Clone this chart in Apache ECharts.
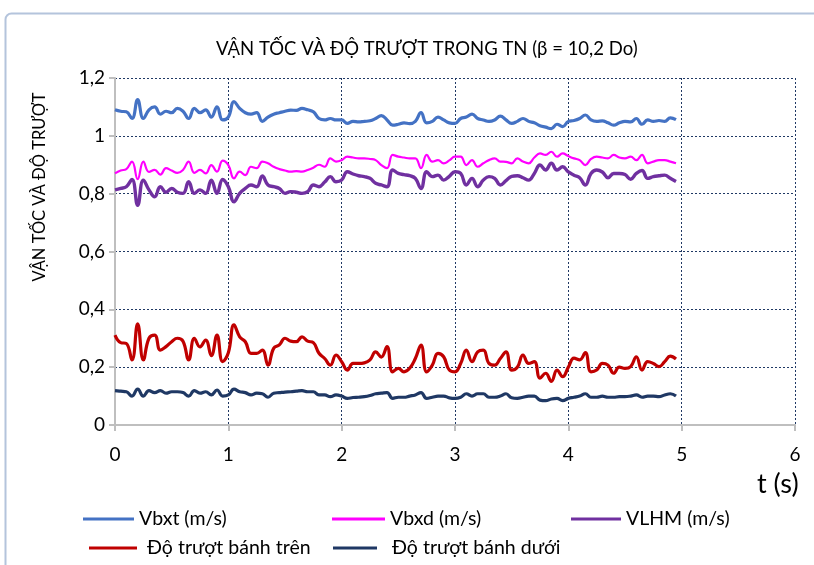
<!DOCTYPE html>
<html>
<head>
<meta charset="utf-8">
<script src="https://cdn.jsdelivr.net/npm/echarts@6/dist/echarts.min.js"></script>
<style>
html,body{margin:0;padding:0;background:#fff;}
#chart{width:814px;height:565px;}
</style>
</head>
<body>
<div id="chart"></div>
<script>
var title = 'VẬN TỐC VÀ ĐỘ TRƯỢT TRONG TN (β = 10,2 Do)';
var yAxisTitle = 'VẬN TỐC VÀ ĐỘ TRƯỢT';
var xAxisTitle = 't (s)';
var seriesNames = ['Vbxt (m/s)', 'Vbxd (m/s)', 'VLHM (m/s)', 'Độ trượt bánh trên', 'Độ trượt bánh dưới'];

var times = [0.00,0.05,0.10,0.15,0.20,0.25,0.30,0.35,0.40,0.45,0.50,0.55,0.60,0.65,0.70,0.75,0.80,0.85,0.90,0.95,
1.00,1.05,1.10,1.15,1.20,1.25,1.30,1.35,1.40,1.45,1.50,1.55,1.60,1.65,1.70,1.75,1.80,1.85,1.90,1.95,
2.00,2.05,2.10,2.15,2.20,2.25,2.30,2.35,2.40,2.45,2.50,2.55,2.60,2.65,2.70,2.75,2.80,2.85,2.90,2.95,
3.00,3.05,3.10,3.15,3.20,3.25,3.30,3.35,3.40,3.45,3.50,3.55,3.60,3.65,3.70,3.75,3.80,3.85,3.90,3.95,
4.00,4.05,4.10,4.15,4.20,4.25,4.30,4.35,4.40,4.45,4.50,4.55,4.60,4.65,4.70,4.75,4.80,4.85,4.90,4.95];

var vbxt = [1.090,1.085,1.083,1.060,1.125,1.060,1.090,1.100,1.075,1.085,1.080,1.095,1.085,1.060,1.095,1.080,1.090,1.065,1.100,1.055,
1.065,1.118,1.095,1.080,1.075,1.080,1.050,1.065,1.075,1.080,1.085,1.089,1.088,1.095,1.090,1.083,1.060,1.055,1.060,1.055,
1.055,1.043,1.050,1.048,1.050,1.052,1.060,1.070,1.055,1.037,1.040,1.045,1.042,1.050,1.080,1.045,1.050,1.065,1.055,1.045,
1.043,1.060,1.065,1.075,1.060,1.055,1.050,1.055,1.068,1.055,1.043,1.050,1.060,1.050,1.045,1.035,1.030,1.025,1.040,1.032,
1.050,1.053,1.060,1.072,1.055,1.050,1.052,1.045,1.037,1.045,1.050,1.048,1.060,1.040,1.055,1.050,1.053,1.050,1.062,1.056];

var vbxd = [0.870,0.880,0.885,0.911,0.850,0.911,0.875,0.882,0.866,0.888,0.880,0.872,0.882,0.911,0.872,0.882,0.870,0.899,0.876,0.914,
0.899,0.853,0.876,0.864,0.893,0.888,0.911,0.905,0.893,0.885,0.880,0.876,0.878,0.876,0.882,0.890,0.900,0.893,0.922,0.911,
0.916,0.928,0.925,0.922,0.922,0.920,0.916,0.899,0.888,0.934,0.928,0.925,0.922,0.922,0.888,0.934,0.911,0.916,0.905,0.915,
0.928,0.928,0.899,0.916,0.893,0.905,0.916,0.922,0.911,0.910,0.905,0.922,0.911,0.905,0.925,0.939,0.934,0.945,0.928,0.939,
0.930,0.922,0.916,0.899,0.920,0.928,0.925,0.922,0.934,0.925,0.922,0.928,0.916,0.934,0.905,0.911,0.916,0.916,0.911,0.905];

var vlhm = [0.813,0.818,0.824,0.849,0.760,0.847,0.813,0.789,0.824,0.805,0.818,0.805,0.801,0.841,0.801,0.813,0.801,0.847,0.801,0.849,
0.824,0.772,0.801,0.818,0.830,0.824,0.861,0.830,0.824,0.818,0.801,0.807,0.805,0.801,0.807,0.830,0.824,0.840,0.859,0.841,
0.847,0.876,0.868,0.862,0.859,0.853,0.836,0.830,0.824,0.882,0.870,0.866,0.862,0.853,0.818,0.876,0.859,0.864,0.847,0.860,
0.876,0.870,0.830,0.853,0.824,0.847,0.859,0.853,0.830,0.845,0.860,0.862,0.855,0.847,0.870,0.899,0.882,0.905,0.882,0.893,
0.875,0.864,0.855,0.830,0.870,0.882,0.875,0.855,0.870,0.870,0.866,0.850,0.870,0.880,0.853,0.859,0.862,0.864,0.853,0.842];

var trenSlip = [0.311,0.285,0.282,0.225,0.350,0.225,0.300,0.311,0.259,0.271,0.288,0.300,0.290,0.225,0.300,0.270,0.294,0.240,0.311,0.219,
0.250,0.346,0.305,0.288,0.248,0.248,0.259,0.207,0.265,0.277,0.300,0.290,0.288,0.305,0.290,0.285,0.248,0.230,0.207,0.242,
0.219,0.190,0.213,0.213,0.215,0.225,0.253,0.235,0.271,0.184,0.196,0.184,0.196,0.230,0.276,0.184,0.207,0.248,0.236,0.190,
0.184,0.213,0.259,0.219,0.253,0.259,0.213,0.207,0.230,0.253,0.190,0.200,0.242,0.213,0.219,0.162,0.179,0.151,0.190,0.167,
0.200,0.231,0.225,0.250,0.184,0.190,0.213,0.207,0.179,0.200,0.196,0.202,0.236,0.190,0.219,0.213,0.202,0.219,0.238,0.228];

var duoiSlip = [0.119,0.117,0.115,0.100,0.124,0.100,0.119,0.112,0.119,0.110,0.115,0.115,0.112,0.100,0.119,0.110,0.115,0.104,0.121,0.100,
0.104,0.124,0.115,0.112,0.104,0.110,0.108,0.096,0.110,0.112,0.114,0.115,0.117,0.119,0.115,0.115,0.104,0.104,0.098,0.104,
0.100,0.092,0.095,0.096,0.098,0.102,0.108,0.110,0.112,0.092,0.096,0.096,0.100,0.104,0.112,0.092,0.096,0.100,0.100,0.094,
0.092,0.096,0.108,0.100,0.108,0.108,0.096,0.096,0.100,0.108,0.094,0.092,0.096,0.100,0.100,0.086,0.084,0.090,0.092,0.084,
0.092,0.096,0.100,0.108,0.096,0.096,0.100,0.096,0.096,0.098,0.098,0.100,0.104,0.096,0.100,0.100,0.098,0.104,0.108,0.100];

var colors = ['#4472c4', '#ff00ff', '#7030a0', '#c00000', '#1f3864'];
var widths = [3.2, 2.2, 3.4, 3.2, 3.2];
var allValues = [vbxt, vbxd, vlhm, trenSlip, duoiSlip];

function pairs(vals) {
  return vals.map(function (v, i) { return [times[i], v]; });
}

var FONT = 'Lato, "Noto Sans", sans-serif';

var series = seriesNames.map(function (name, i) {
  return {
    name: name,
    type: 'line',
    data: pairs(allValues[i]),
    smooth: 0.45,
    showSymbol: false,
    symbol: 'none',
    lineStyle: { color: colors[i], width: widths[i] },
    itemStyle: { color: colors[i] },
    z: 3
  };
});

function legendFor(idx, left, top, iconW, extraPad) {
  return {
    left: left, top: top,
    orient: 'horizontal',
    data: [{ name: seriesNames[idx], icon: 'rect' }],
    itemWidth: iconW,
    itemHeight: 3,
    selectedMode: false,
    textStyle: { fontFamily: FONT, fontSize: 19.5, color: '#000', padding: [0, 0, 0, extraPad] }
  };
}

var chart = echarts.init(document.getElementById('chart'));
chart.setOption({
  animation: false,
  backgroundColor: '#fff',
  color: colors,
  title: {
    text: title,
    left: 211,
    top: 35,
    textStyle: { fontFamily: FONT, fontSize: 18.5, fontWeight: 'normal', color: '#000' }
  },
  legend: [
    legendFor(0, 78, 504, 51, 0),
    legendFor(1, 327, 504, 53, 0),
    legendFor(2, 566, 504, 50, 0),
    legendFor(3, 84, 533, 48, 5),
    legendFor(4, 328, 533, 44, 10)
  ],
  grid: { left: 115, right: 19, top: 78, bottom: 140 },
  xAxis: {
    type: 'value',
    min: 0, max: 6, interval: 1,
    axisLine: { show: true, lineStyle: { color: '#bfbfbf', width: 2 } },
    axisTick: { show: true, length: 6, lineStyle: { color: '#bfbfbf', width: 2 } },
    axisLabel: { fontFamily: FONT, fontSize: 19, color: '#000', margin: 20 },
    splitLine: { show: true, lineStyle: { color: '#1f3864', type: [2, 2], width: 1 } }
  },
  yAxis: {
    type: 'value',
    min: 0, max: 1.2, interval: 0.2,
    axisLine: { show: true, lineStyle: { color: '#bfbfbf', width: 2 } },
    axisTick: { show: true, length: 6, lineStyle: { color: '#bfbfbf', width: 2 } },
    axisLabel: {
      fontFamily: FONT, fontSize: 19, color: '#000', margin: 10,
      formatter: function (v) { return String(Math.round(v * 10) / 10).replace('.', ','); }
    },
    splitLine: { show: true, lineStyle: { color: '#1f3864', type: [2, 2], width: 1 } }
  },
  graphic: [
    {
      type: 'rect',
      shape: { x: 5.5, y: 13.5, width: 830, height: 600, r: 6 },
      style: { fill: 'none', stroke: '#b4c4dc', lineWidth: 2 },
      z: -1, silent: true
    },
    {
      type: 'text',
      x: 40, y: 187,
      rotation: Math.PI / 2,
      style: { text: yAxisTitle, font: '16.5px ' + FONT, fill: '#000', align: 'center', verticalAlign: 'middle' }
    },
    {
      type: 'text',
      left: 757, top: 471,
      style: { text: xAxisTitle, font: '27px ' + FONT, fill: '#000' }
    }
  ],
  series: series
});
</script>
</body>
</html>
